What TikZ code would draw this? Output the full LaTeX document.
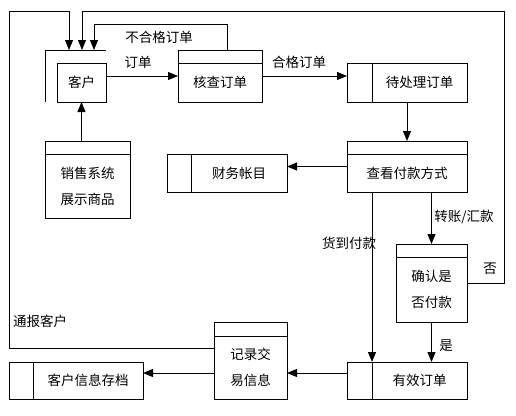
\documentclass[tikz,border=0pt]{standalone}
\usepackage{fontspec}
\setmainfont{Noto Sans CJK SC}
\usetikzlibrary{arrows.meta,calc}
\begin{document}
\begin{tikzpicture}[x=1pt,y=-1pt,
  every node/.style={font=\fontsize{13.5}{26}\selectfont, inner sep=0pt, outer sep=0pt},
  box/.style={draw, line width=1pt, anchor=north west},
  ln/.style={line width=1pt},
  arr/.style={line width=1pt, -{Triangle[length=10pt,width=8pt]}}]
\useasboundingbox (0,0) rectangle (516,415);
% external entity: customer
\node[box, minimum width=49pt, minimum height=39pt] (kh) at (57,63) {客户};
\node[anchor=north west, minimum width=61pt, minimum height=52pt] (khe) at (45,50) {};
\draw[ln] (khe.south west) -- (khe.north west) -- (khe.north east);
\coordinate (a1) at ($(khe.north west)+(24,0)$);
\coordinate (a2) at ($(khe.north west)+(37,0)$);
\coordinate (a3) at ($(khe.north west)+(49,0)$);
% process: check order
\node[box, minimum width=84pt, minimum height=52pt] (hc) at (178,50) {};
\node (hct) at (220,82.5) {核查订单};
\draw[ln] ($(hc.north west)+(0,13)$) -- ($(hc.north east)+(0,13)$);
% store: pending orders
\node[box, minimum width=120pt, minimum height=39pt] (dc) at (347,63) {};
\draw[ln] ($(dc.north west)+(25,0)$) -- ($(dc.south west)+(25,0)$);
\node (dct) at (419.5,82.5) {待处理订单};
% process: check payment
\node[box, minimum width=120pt, minimum height=51pt] (ck) at (347,141) {};
\draw[ln] ($(ck.north west)+(0,13)$) -- ($(ck.north east)+(0,13)$);
\node (ckt) at (407,173) {查看付款方式};
% store: finance
\node[box, minimum width=120pt, minimum height=38pt] (cw) at (167,154) {};
\draw[ln] ($(cw.north west)+(24,0)$) -- ($(cw.south west)+(24,0)$);
\node (cwt) at (239,173) {财务帐目};
% process: confirm payment
\node[box, minimum width=71pt, minimum height=78pt] (qr) at (396,244) {};
\draw[ln] ($(qr.north west)+(0,13)$) -- ($(qr.north east)+(0,13)$);
\node[align=center] (qrt) at (431.5,289.5) {确认是\\否付款};
% store: valid orders
\node[box, minimum width=120pt, minimum height=37pt] (yx) at (347,362) {};
\draw[ln] ($(yx.north west)+(25,0)$) -- ($(yx.south west)+(25,0)$);
\node (yxt) at (419.5,380.5) {有效订单};
% process: record transaction
\node[box, minimum width=73pt, minimum height=77pt] (jl) at (214,322) {};
\draw[ln] ($(jl.north west)+(0,14)$) -- ($(jl.north east)+(0,14)$);
\node[align=center] (jlt) at (250.5,367.5) {记录交\\易信息};
% store: customer archive
\node[box, minimum width=134pt, minimum height=37pt] (kc) at (9,362) {};
\draw[ln] ($(kc.north west)+(24,0)$) -- ($(kc.south west)+(24,0)$);
\node (kct) at (88,380.5) {客户信息存档};
% process: sales system
\node[box, minimum width=85pt, minimum height=77pt] (xs) at (45,141) {};
\draw[ln] ($(xs.north west)+(0,13)$) -- ($(xs.north east)+(0,13)$);
\node[align=center] (xst) at (87.5,186) {销售系统\\展示商品};
% connectors
\draw[arr] (kh.east |- hc.west) -- (hc.west);
\draw[arr] (hc.east) -- (hc.east -| dc.west);
\draw[arr] (dc.south) -- (ck.north);
\draw[arr] (ck.west) -- (ck.west -| cw.east);
\coordinate (c1) at ($(ck.south west)+(25,0)$);
\draw[arr] (c1) -- (c1 |- yx.north);
\draw[arr] (ck.south -| qr.north) -- (qr.north);
\draw[arr] (qr.south) -- (qr.south |- yx.north);
\draw[arr] (qr.east) -| (504,11) -| (a2);
\draw[arr] ($(hc.north)+(7,0)$) |- (94,24) -- (a3);
\coordinate (j1) at ($(jl.north west)+(0,26)$);
\draw[arr] (j1) -| (9.5,11) -| (a1);
\coordinate (y2) at ($(yx.north west)+(0,11)$);
\draw[arr] (y2) -- (y2 -| jl.east);
\coordinate (j2) at ($(jl.north west)+(0,51)$);
\draw[arr] (j2) -- (j2 -| kc.east);
\draw[arr] (xs.north -| kh.south) -- (kh.south);
% labels
\node (l1) at (159,37) {不合格订单};
\node (l2) at (138,62) {订单};
\node (l3) at (299,62) {合格订单};
\node (l4) at (349,243) {货到付款};
\node (l5) at (464,217) {转账/汇款};
\node (l6) at (490,269) {否};
\node (l7) at (446,346) {是};
\node (l8) at (40,321) {通报客户};
\end{tikzpicture}
\end{document}
